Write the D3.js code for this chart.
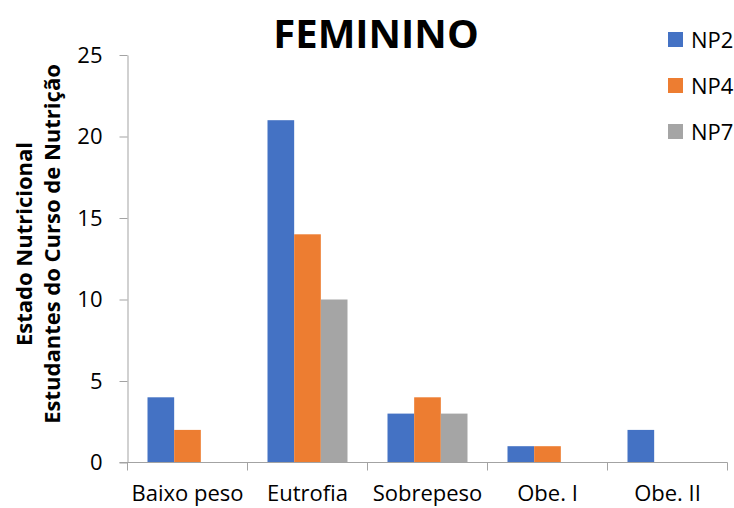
<!DOCTYPE html>
<html>
<head>
<meta charset="utf-8">
<script src="https://cdn.jsdelivr.net/npm/d3@7"></script>
<style>
  html, body { margin: 0; padding: 0; background: #ffffff; }
  svg { display: block; font-family: "Open Sans", "Noto Sans", sans-serif; }
</style>
</head>
<body>
<svg id="chart" width="734" height="508"></svg>
<script>
// Nutritional status of female nutrition students, by semester group
const categories = ["Baixo peso", "Eutrofia", "Sobrepeso", "Obe. I", "Obe. II"];
const seriesNames = ["NP2", "NP4", "NP7"];
const np2 = [4, 21, 3, 1, 2];
const np4 = [2, 14, 4, 1, 0];
const np7 = [0, 10, 3, 0, 0];
const yTicks = [0, 5, 10, 15, 20, 25];
const colors = ["#4472C4", "#ED7D31", "#A5A5A5"];

const seriesValues = [np2, np4, np7];
const axisColor = "#a3a3a3";

const svg = d3.select("#chart");

const x = d3.scaleBand().domain(categories).range([127.5, 727.5]).padding(0);
const x1 = d3.scaleBand().domain(seriesNames).range([20, 100]).padding(0);
const y = d3.scaleLinear().domain([0, 25]).range([462.5, 55]);
const color = d3.scaleOrdinal().domain(seriesNames).range(colors);

// Bars
const groups = svg.append("g")
  .selectAll("g")
  .data(categories)
  .join("g")
  .attr("transform", d => `translate(${x(d)},0)`);

groups.selectAll("rect")
  .data((d, i) => seriesNames.map((s, j) => ({ s, v: seriesValues[j][i] })))
  .join("rect")
  .filter(d => d.v > 0)
  .attr("x", d => x1(d.s))
  .attr("width", x1.bandwidth())
  .attr("y", d => y(d.v))
  .attr("height", d => y(0) - y(d.v))
  .attr("fill", d => color(d.s));

// Y axis
const yAxis = svg.append("g")
  .attr("transform", `translate(${x.range()[0]},0)`)
  .call(d3.axisLeft(y).tickValues(yTicks).tickSize(8).tickPadding(17).tickSizeOuter(0));
yAxis.select(".domain").attr("stroke", axisColor);
yAxis.selectAll(".tick line").attr("stroke", axisColor);
yAxis.selectAll(".tick text")
  .attr("font-size", 22)
  .attr("font-family", "'Open Sans', sans-serif")
  .attr("fill", "#000");

// X axis: boundary ticks between categories
const boundaries = categories.map(c => x(c)).concat([x(categories[categories.length - 1]) + x.bandwidth()]);
const xAxisG = svg.append("g").attr("transform", `translate(0,${y(0)})`);
xAxisG.append("line")
  .attr("x1", x.range()[0] - 8)
  .attr("x2", x.range()[1])
  .attr("stroke", axisColor);
xAxisG.selectAll("line.bt")
  .data(boundaries)
  .join("line")
  .attr("class", "bt")
  .attr("x1", d => d).attr("x2", d => d)
  .attr("y1", 0).attr("y2", 8)
  .attr("stroke", axisColor);

// X category labels
const xLabels = svg.append("g")
  .attr("transform", `translate(0,${y(0)})`)
  .call(d3.axisBottom(x).tickSize(0).tickPadding(23));
xLabels.select(".domain").remove();
xLabels.selectAll(".tick text")
  .attr("font-size", 22)
  .attr("font-family", "'Open Sans', sans-serif")
  .attr("fill", "#000");

// Title
svg.append("text")
  .attr("x", 376)
  .attr("y", 48)
  .attr("text-anchor", "middle")
  .attr("font-size", 40)
  .attr("font-weight", "bold")
  .text("FEMININO");

// Y axis title (two lines)
const yTitle = svg.append("text")
  .attr("transform", "translate(0,244) rotate(-90)")
  .attr("text-anchor", "middle")
  .attr("font-size", 22)
  .attr("font-weight", "bold");
yTitle.append("tspan").attr("x", 0).attr("y", 32).text("Estado Nutricional");
yTitle.append("tspan").attr("x", 0).attr("y", 60).text("Estudantes do Curso de Nutrição");

// Legend
const legend = svg.append("g")
  .selectAll("g")
  .data(seriesNames)
  .join("g")
  .attr("transform", (d, i) => `translate(668,${32 + i * 46})`);
legend.append("rect")
  .attr("width", 15).attr("height", 15)
  .attr("fill", d => color(d));
legend.append("text")
  .attr("x", 23)
  .attr("y", 15.5)
  .attr("font-size", 22)
  .text(d => d);
</script>
</body>
</html>
